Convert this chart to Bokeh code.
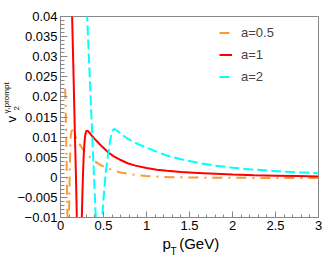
import numpy as np
from bokeh.plotting import figure
from bokeh.models import (FixedTicker, CustomJSTickFormatter, Legend, LegendItem,
                          Title, Range1d)
from bokeh.embed import file_html
from bokeh.resources import INLINE

# ---------------- data ----------------
pt_a05 = [0.055, 0.06, 0.065, 0.07, 0.075, 0.08, 0.085, 0.09, 0.095, 0.10, 0.105,
          0.11, 0.115, 0.12, 0.13, 0.14, 0.155, 0.17, 0.19, 0.21, 0.24, 0.27, 0.30,
          0.33, 0.37, 0.42, 0.47, 0.53, 0.6, 0.7, 0.8, 0.9, 1.0, 1.2, 1.4, 1.7, 2.0,
          2.5, 3.0]
v2_a05 = [0.022, 0.017, 0.011, 0.005, -0.002, -0.009, -0.016, -0.02, -0.016, -0.009,
          -0.002, 0.004, 0.0085, 0.0105, 0.0116, 0.0117, 0.0112, 0.0104, 0.0095, 0.0087,
          0.0076, 0.0067, 0.0060, 0.0053, 0.0045, 0.0037, 0.0030, 0.0024, 0.0018, 0.0012,
          0.0008, 0.0005, 0.0003, 0.0001, 0.0, -0.0001, -0.0001, -0.0002, -0.0002]

pt_a1 = [0.10, 0.12, 0.135, 0.15, 0.165, 0.18, 0.19, 0.2, 0.215, 0.23, 0.24, 0.248,
         0.255, 0.262, 0.27, 0.28, 0.29, 0.30, 0.31, 0.32, 0.34, 0.37, 0.40, 0.44, 0.48,
         0.52, 0.56, 0.62, 0.7, 0.78, 0.87, 1.0, 1.12, 1.24, 1.4, 1.6, 1.8, 2.0, 2.25,
         2.5, 2.75, 3.0]
v2_a1 = [0.09, 0.055, 0.040, 0.027, 0.013, 0.0, -0.010, -0.018, -0.024, -0.022, -0.016,
         -0.010, -0.004, 0.001, 0.0055, 0.0090, 0.0108, 0.0115, 0.0116, 0.0115, 0.0110,
         0.0102, 0.0095, 0.0086, 0.0077, 0.0069, 0.0061, 0.0052, 0.0043, 0.0035, 0.0029,
         0.0023, 0.0019, 0.0016, 0.0013, 0.0011, 0.0009, 0.0007, 0.0005, 0.0004, 0.0003,
         0.0002]

pt_a2 = [0.27, 0.29, 0.31, 0.335, 0.36, 0.385, 0.41, 0.43, 0.455, 0.475, 0.485, 0.5,
         0.515, 0.53, 0.545, 0.56, 0.575, 0.59, 0.605, 0.62, 0.64, 0.67, 0.71, 0.76, 0.82,
         0.87, 0.94, 1.0, 1.1, 1.24, 1.4, 1.6, 1.8, 2.0, 2.2, 2.4, 2.6, 2.8, 3.0]
v2_a2 = [0.09, 0.06, 0.040, 0.0275, 0.015, 0.0025, -0.010, -0.020, -0.024, -0.016,
         -0.010, -0.0055, -0.0015, 0.002, 0.0045, 0.0065, 0.0088, 0.0105, 0.0115, 0.0120,
         0.0119, 0.0114, 0.0107, 0.0099, 0.0091, 0.0086, 0.0079, 0.0074, 0.0065, 0.0054,
         0.0045, 0.0036, 0.0029, 0.0024, 0.0020, 0.0017, 0.0014, 0.0012, 0.0010]

series_labels = ["a=0.5", "a=1", "a=2"]
x_ticks = [0, 0.5, 1, 1.5, 2, 2.5, 3]
y_ticks = [-0.01, -0.005, 0, 0.005, 0.01, 0.015, 0.02, 0.025, 0.03, 0.035, 0.04]
x_title = ["p\u00a0\u00a0(GeV)", "T"]
y_title = ["v", "2", "\u03b3,prompt"]

# ---------------- figure ----------------
FONT = "Liberation Sans"
GRAY = "#888888"
p = figure(width=332, height=259, output_backend="svg", toolbar_location=None,
           x_range=Range1d(0, 3), y_range=Range1d(-0.01, 0.04),
           min_border_left=60, min_border_right=14, min_border_top=16,
           min_border_bottom=42)
p.background_fill_color = "white"
p.border_fill_color = "white"
p.outline_line_color = GRAY
p.outline_line_width = 1
p.grid.visible = False

fmt = CustomJSTickFormatter(code="""
const v = Math.round(tick*100000)/100000;
return v < 0 ? "\\u2212" + String(-v) : String(v);
""")

p.xaxis.ticker = FixedTicker(ticks=x_ticks,
                             minor_ticks=list(np.round(np.arange(0, 3.0001, 0.1), 3)))
p.yaxis.ticker = FixedTicker(ticks=y_ticks,
                             minor_ticks=list(np.round(np.arange(-0.01, 0.04001, 0.001), 4)))
p.xaxis.formatter = fmt
p.yaxis.formatter = fmt
for ax in (p.xaxis[0], p.yaxis[0]):
    ax.axis_line_color = GRAY
    ax.major_tick_line_color = GRAY
    ax.minor_tick_line_color = GRAY
    ax.major_tick_out = 0
    ax.minor_tick_out = 0
    ax.major_label_text_font = FONT
    ax.major_label_text_font_size = "13px"
    ax.major_label_text_color = "black"
    ax.major_label_standoff = 3
p.xaxis.major_tick_in = 6
p.xaxis.minor_tick_in = 3
p.yaxis.major_tick_in = 7
p.yaxis.minor_tick_in = 4

r05 = p.line(pt_a05, v2_a05, line_color="#ff9933", line_width=2, line_dash="10 6 2 6")
r1 = p.line(pt_a1, v2_a1, line_color="#ff0000", line_width=2)
r2 = p.line(pt_a2, v2_a2, line_color="#00ffff", line_width=2, line_dash="10 4")

legend = Legend(items=[LegendItem(label=series_labels[0], renderers=[r05]),
                       LegendItem(label=series_labels[1], renderers=[r1]),
                       LegendItem(label=series_labels[2], renderers=[r2])],
                location=(159, 133), orientation="vertical")
legend.padding = 0
legend.margin = 0
legend.spacing = 7
legend.glyph_width = 13
legend.glyph_height = 15
legend.label_height = 15
legend.label_standoff = 9
legend.label_text_font = FONT
legend.label_text_font_size = "13px"
legend.label_text_baseline = "middle"
legend.background_fill_alpha = 0
legend.border_line_alpha = 0
p.add_layout(legend)

# ---------------- axis titles as real text (side-panel titles) ----------------
def add_title(txt, side, size, offset, standoff, valign):
    t = Title(text=txt, align="left", offset=offset, standoff=standoff,
              vertical_align=valign, text_font=FONT, text_font_size=size,
              text_font_style="normal", text_color="black")
    p.add_layout(t, side)

# x title: p_T (GeV)
add_title(x_title[0], "below", "15px", 102, 4, "top")
add_title(x_title[1], "below", "10px", 110, -20, "top")

# y title: v_2^{gamma,prompt}  (nearest panel first)
add_title(y_title[1], "left", "8px", 107, -9, "bottom")
add_title(y_title[0], "left", "13px", 95, -8, "bottom")
add_title(y_title[2], "left", "8px", 104, -10, "bottom")

open("out.html", "w").write(file_html(p, INLINE))
